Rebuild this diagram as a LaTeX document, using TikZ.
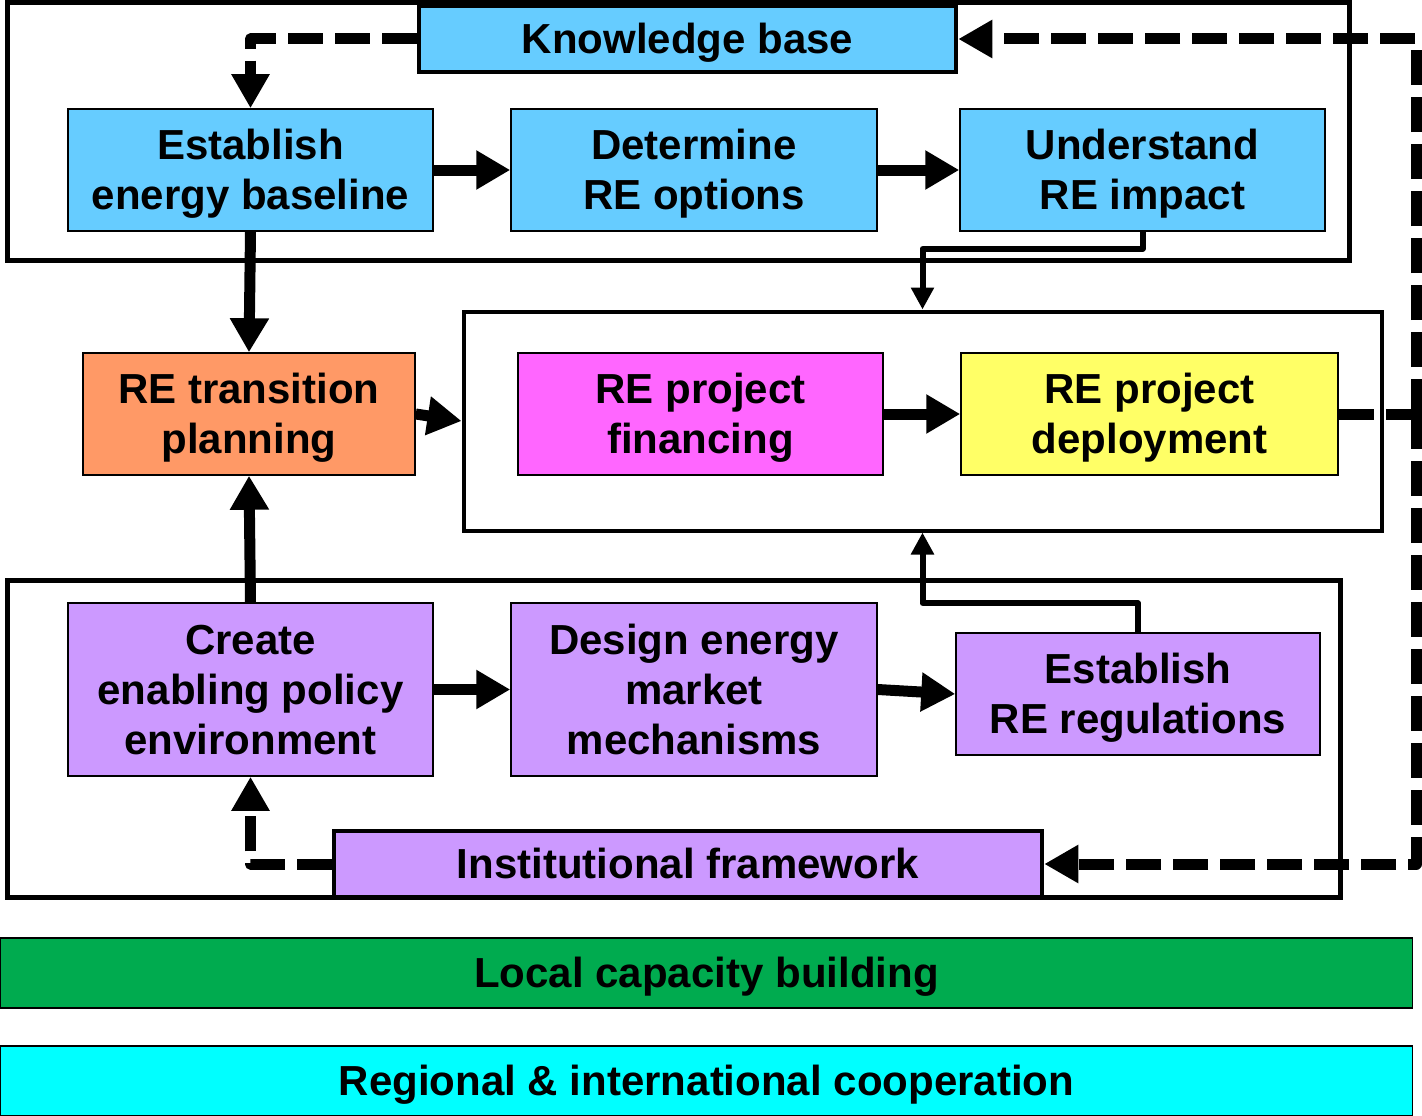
\documentclass[tikz,border=0pt]{standalone}
\usepackage{fontspec}
\setmainfont{Liberation Sans}
\usetikzlibrary{arrows.meta,calc}
\definecolor{cblue}{HTML}{66CCFF}
\definecolor{corange}{HTML}{FF9966}
\definecolor{cmagenta}{HTML}{FF66FF}
\definecolor{cyellow}{HTML}{FFFF66}
\definecolor{cpurple}{HTML}{CC99FF}
\definecolor{cgreen}{HTML}{00AB4F}
\definecolor{ccyan}{HTML}{00FFFF}
\newcommand\bs{\rule[-9pt]{0pt}{47pt}}
\begin{document}
\begin{tikzpicture}[x=1pt,y=-1pt,
  lbl/.style={font=\bfseries\fontsize{42}{50}\selectfont, align=center, inner sep=0pt},
  box/.style={lbl, draw=black, line width=1.5pt, minimum width=365pt, minimum height=122pt},
  thickbox/.style={lbl, draw=black, line width=4.5pt, minimum height=66pt},
  bar/.style={lbl, draw=black, line width=1.5pt, minimum width=1412pt, minimum height=70pt},
  frame/.style={draw=black, line width=5pt},
  bigarrow/.style={line width=11pt, -{Triangle[length=34pt,width=37pt]}},
  thinarrow/.style={line width=6pt, line join=round, -{Triangle[length=22pt,width=22pt]}},
  dashline/.style={line width=11pt, dash pattern=on 35pt off 12pt, line join=round},
  dasharrow/.style={dashline, -{Triangle[length=34pt,width=36pt]}}
]
\useasboundingbox (0,0) rectangle (1422,1116);
\fill[white] (0,0) rectangle (1422,1116);

% group frames
\draw[frame] (7.5,2.5) rectangle (1349,260.5);
\draw[frame] (7.5,580.5) rectangle (1340,897.5);
\node[draw=black, line width=4pt, minimum width=918pt, minimum height=219pt, inner sep=0pt] (mid) at (922.5,421) {};

% top row
\node[thickbox, fill=cblue, minimum width=537pt] (kb) at (687.5,39) {\bs Knowledge base};
\node[box, fill=cblue] (base) at (250.5,170) {\bs Establish\\\bs energy baseline};
\node[box, fill=cblue, minimum width=366pt] (det) at (694,170) {\bs Determine\\\bs RE options};
\node[box, fill=cblue] (und) at (1142.5,170) {\bs Understand\\\bs RE impact};

% middle row
\node[box, fill=corange, minimum width=332pt] (plan) at (249,414) {\bs RE transition\\\bs planning};
\node[box, fill=cmagenta] (fin) at (700.5,414) {\bs RE project\\\bs financing};
\node[box, fill=cyellow, minimum width=377pt] (dep) at (1149.5,414) {\bs RE project\\\bs deployment};

% bottom group
\node[box, fill=cpurple, minimum height=173pt] (create) at (250.5,689.5) {\bs Create\\\bs enabling policy\\\bs environment};
\node[box, fill=cpurple, minimum width=366pt, minimum height=173pt] (design) at (694,689.5) {\bs Design energy\\\bs market\\\bs mechanisms};
\node[box, fill=cpurple, minimum width=364pt] (regs) at (1138,694) {\bs Establish\\\bs RE regulations};
\node[thickbox, fill=cpurple, minimum width=708pt] (inst) at (688,864) {\bs Institutional framework};

% bars
\node[bar, fill=cgreen] (local) at (706.5,973) {\bs Local capacity building};
\node[bar, fill=ccyan] (coop) at (706.5,1081) {\bs Regional \& international cooperation};

% solid connectors
\draw[bigarrow] (base.east) -- (det.west);
\draw[bigarrow] (det.east) -- (und.west);
\draw[bigarrow] (base.south) -- (plan.north);
\draw[bigarrow] (create.north) -- (plan.south);
\draw[bigarrow] (plan.east) -- (mid.west);
\draw[bigarrow] (fin.east) -- (dep.west);
\draw[bigarrow] (create.east) -- (design.west);
\draw[bigarrow] (design.east) -- (regs.west);
\draw[thinarrow] (und.south) -- ++(0,17) -| (mid.north);
\draw[thinarrow] (regs.north) -- ++(0,-29) -| (mid.south);

% dashed feedback
\coordinate (J) at (1416,414);
\draw[dashline] (dep.east) -- (J);
\draw[dasharrow] (J) |- (kb.east);
\draw[dasharrow] (J) |- (inst.east);
\draw[dasharrow] (kb.west) -| (base.north);
\draw[dasharrow] (inst.west) -| (create.south);
\end{tikzpicture}
\end{document}
